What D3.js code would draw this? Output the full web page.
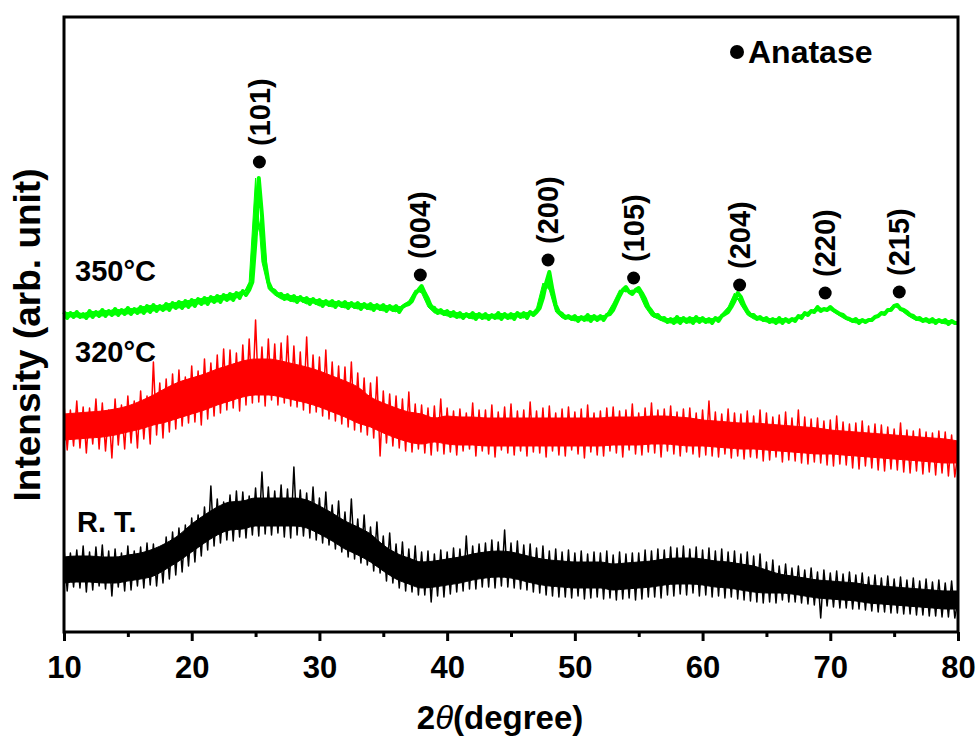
<!DOCTYPE html>
<html><head><meta charset="utf-8">
<script src="https://cdn.jsdelivr.net/npm/d3@7"></script>
<style>
html,body{margin:0;padding:0;background:#fff;}
text{font-family:"Liberation Sans",Arial,sans-serif;font-weight:bold;fill:#000;}
</style></head>
<body><svg id="chart" width="977" height="736"></svg>
<script>
// 2θ grid: 10 → 80 degrees, 0.25° step
const thetaStart = 10, thetaStep = 0.25, nPoints = 281;

// Intensities (arb. unit); one row per degree (x.00, x.25, x.50, x.75)
const intensityRT = [
84,41,79,45, 82,44,86,40, 80,42,85,46, 87,43,81,36, 83,45,79,41,
86,42,81,46, 85,44,89,47, 88,46,84,49, 95,53,100,57, 104,60,107,66,
114,70,117,76, 125,82,146,86, 133,89,130,92, 137,91,141,95, 140,94,136,97,
144,96,160,98, 145,97,141,99, 147,95,143,94, 165,97,142,96, 139,94,145,92,
134,89,140,87, 127,83,131,80, 120,75,133,73, 113,69,117,67, 105,61,110,59,
96,51,99,49, 88,44,90,41, 83,40,86,37, 80,37,81,30, 78,36,82,35,
80,38,84,40, 83,41,96,43, 86,43,88,45, 89,45,92,44, 90,46,102,45,
89,44,91,43, 87,42,88,40, 84,39,86,37, 81,36,83,35, 80,35,82,34,
79,36,81,33, 78,34,80,35, 79,33,81,34, 77,32,80,33, 78,34,79,32,
79,33,82,35, 81,35,83,34, 82,37,85,36, 84,38,86,37, 83,39,85,36,
82,37,84,35, 81,36,83,34, 80,35,81,33, 78,32,80,31, 76,30,78,29,
70,30,72,29, 66,32,68,30, 64,30,66,29, 62,28,64,27, 60,14,62,26,
59,25,61,24, 58,24,60,23, 57,23,59,22, 55,21,57,20, 54,20,56,19,
53,19,55,18, 52,18,54,17, 51,17,53,16, 50,16,52,15, 49,15,51,14,
32];

const intensity320 = [
228,182,222,186, 231,184,225,179, 224,188,233,183, 229,181,222,174, 233,187,227,183,
236,189,231,184, 241,193,236,188, 270,197,249,194, 253,200,258,203, 262,206,255,209,
266,210,261,207, 273,213,269,216, 277,219,283,222, 282,224,279,221, 287,227,293,229,
312,230,285,226, 293,232,288,227, 289,229,296,226, 286,225,280,222, 295,219,277,220,
275,216,282,213, 270,211,266,208, 265,205,270,202, 259,200,254,197, 249,194,255,176,
241,189,238,186, 236,184,233,181, 240,180,228,183, 227,179,224,177, 226,181,233,178,
224,180,221,177, 223,181,219,183, 229,176,222,181, 222,178,227,175, 220,182,225,179,
228,177,221,181, 222,176,230,180, 221,179,224,175, 226,181,219,177, 223,176,225,182,
220,178,223,174, 227,180,219,177, 221,176,224,181, 225,179,221,175, 222,182,228,178,
219,177,224,180, 229,179,222,175, 223,181,226,178, 220,176,223,180, 224,178,219,175,
222,177,231,176, 220,175,218,178, 223,174,219,176, 218,173,221,175, 216,174,222,171,
219,172,215,175, 217,170,220,172, 214,171,222,169, 215,168,213,170, 214,169,211,167,
212,166,216,168, 210,167,208,164, 209,163,211,166, 206,164,208,162, 207,161,205,163,
203,162,209,160, 202,159,201,161, 203,158,200,160, 199,157,201,159, 200,156,197,155,
180];

const intensity350 = [
320,314,319,315, 320,315,318,314, 321,315,320,316, 322,316,321,317, 323,317,322,318,
324,318,323,319, 325,319,326,320, 327,321,326,322, 328,322,329,324, 330,324,331,325,
332,326,333,328, 334,328,335,330, 336,330,337,332, 338,332,339,334, 341,337,342,350,
392,454,417,370, 350,343,341,337, 338,333,337,332, 336,330,335,331, 334,328,333,329,
332,326,331,327, 331,325,330,326, 330,324,329,325, 329,323,328,324, 328,322,327,323,
327,321,326,322, 326,320,325,327, 328,331,338,342, 346,339,333,325, 324,319,322,318,
321,316,320,315, 319,314,318,315, 319,313,318,314, 318,313,317,314, 319,313,318,314,
318,313,319,315, 319,314,320,317, 320,324,334,349, 360,342,327,320, 318,314,316,313,
316,311,315,312, 317,311,316,312, 316,312,317,318, 322,329,336,342, 345,340,338,342,
344,339,333,325, 321,316,317,313, 314,310,313,309, 315,309,314,310, 314,309,315,310,
314,310,313,309, 314,311,316,318, 320,325,331,339, 335,327,321,317, 317,313,315,312,
314,310,313,309, 314,309,313,310, 313,311,316,314, 319,317,321,320, 325,321,323,322,
325,322,320,318, 317,314,313,311, 313,309,312,310, 312,312,315,316, 319,318,322,322,
326,327,323,322, 320,317,316,313, 314,311,313,310, 313,309,312,310, 312,308,311,309,
309];

// Dense core of the noisy traces (upper / lower edge), read at every whole degree 10..80
const coreTheta = d3.range(10, 81);
const coreRTHi = [
75,76,76,75,75,77,79,83,89,97, 108,117,125,130,131,134,134,134,134,132,
126,119,111,105,98,87,79,74,70,71, 73,75,78,80,81,80,77,74,72,71,
70,70,70,68,69,70,71,73,74,74, 73,71,70,68,66,62,58,56,54,52,
51,50,49,47,46,45,44,43,42,41, 41];
const coreRTLo = [
49,50,50,49,49,51,53,56,63,71, 80,89,97,102,103,106,106,106,106,104,
98,91,83,77,70,61,53,48,44,45, 47,49,52,54,55,54,51,48,46,45,
44,44,44,42,43,44,45,47,48,48, 47,45,44,42,40,39,39,38,36,34,
33,32,31,29,28,27,26,25,24,23, 23];
const core320Hi = [
218,219,220,221,223,226,231,237,244,250, 254,258,263,267,271,273,273,271,268,265,
261,256,251,245,235,229,224,220,218,214, 216,215,215,214,214,214,214,214,214,214,
214,214,214,215,215,215,216,216,215,214, 212,211,210,209,209,208,207,206,205,204,
202,201,200,199,198,197,196,195,194,193, 191];
const core320Lo = [
192,193,194,195,197,200,203,207,210,214, 218,222,227,231,235,237,237,235,232,229,
225,220,215,209,205,199,194,190,188,190, 188,187,187,186,186,186,186,186,186,186,
186,186,186,187,187,187,188,188,187,186, 186,185,184,183,183,182,181,180,179,178,
178,177,176,175,174,173,172,171,170,169, 169];

const seriesNames = ["R. T.", "320°C", "350°C"];
const seriesColors = ["#000000", "#ff0000", "#00ff00"];

// Anatase reflections
const peakTheta = [25.3, 37.9, 47.9, 54.6, 62.9, 69.6, 75.4];
const peakMarkY = [470, 357, 372, 354, 347, 339, 340];
const peakLabels = ["(101)", "(004)", "(200)", "(105)", "(204)", "(220)", "(215)"];

const xMajorTicks = [10, 20, 30, 40, 50, 60, 70, 80];
const xMinorTicks = [15, 25, 35, 45, 55, 65, 75];

const twoTheta = d3.range(nPoints).map(i => thetaStart + i * thetaStep);

const svg = d3.select("#chart");
const L = 64, R = 958, T = 17, B = 632;
const x = d3.scaleLinear().domain([10, 80]).range([L, R]);
const y = d3.scaleLinear().domain([0, 615]).range([B, T]);

const line = d3.line().x((d, i) => x(twoTheta[i])).y(d => y(d));
const coreArea = (hi, lo) => d3.area()
  .x((d, i) => x(coreTheta[i])).y1((d, i) => y(hi[i])).y0((d, i) => y(lo[i]))
  .curve(d3.curveMonotoneX)(coreTheta);

// R.T. and 320 °C: solid core + noisy trace
[[intensityRT, coreRTHi, coreRTLo, 0], [intensity320, core320Hi, core320Lo, 1]].forEach(([vals, hi, lo, k]) => {
  svg.append("path").attr("d", coreArea(hi, lo))
    .attr("fill", seriesColors[k]).attr("stroke", seriesColors[k]).attr("stroke-width", 1);
  svg.append("path").datum(vals).attr("d", line)
    .attr("fill", "none").attr("stroke", seriesColors[k]).attr("stroke-width", 1.5)
    .attr("stroke-linejoin", "round");
});

// 350 °C: thin noisy band
{
  const vals = intensity350;
  const pairs = d3.range(0, vals.length - 1, 2).map(j => ({t: twoTheta[j], a: vals[j], b: vals[j + 1]}));
  const band = d3.area().x(d => x(d.t)).y0(d => y(d.b)).y1(d => y(d.a));
  svg.append("path").datum(pairs).attr("d", band)
    .attr("fill", seriesColors[2]).attr("stroke", seriesColors[2]).attr("stroke-width", 1);
  svg.append("path").datum(vals).attr("d", line)
    .attr("fill", "none").attr("stroke", seriesColors[2]).attr("stroke-width", 4)
    .attr("stroke-linejoin", "round");
}

// frame
svg.append("rect").attr("x", L).attr("y", T).attr("width", R - L).attr("height", B - T)
  .attr("fill", "none").attr("stroke", "#000").attr("stroke-width", 3);

// x axis
const gx = svg.append("g").attr("transform", `translate(0,${B})`)
  .call(d3.axisBottom(x).tickValues(xMajorTicks).tickSize(9).tickFormat(d3.format("d")));
gx.select(".domain").remove();
gx.selectAll(".tick line").attr("stroke", "#000").attr("stroke-width", 3);
gx.selectAll(".tick text").attr("y", 46).attr("dy", "0")
  .style("font-size", "31px").style("font-family", "'Liberation Sans',Arial,sans-serif").style("font-weight", "bold");
const gm = svg.append("g").attr("transform", `translate(0,${B})`)
  .call(d3.axisBottom(x).tickValues(xMinorTicks).tickSize(5).tickFormat(""));
gm.select(".domain").remove();
gm.selectAll(".tick line").attr("stroke", "#000").attr("stroke-width", 3);

// axis titles
const xt = svg.append("text").attr("x", 500).attr("y", 729).attr("text-anchor", "middle").style("font-size", "33px");
xt.append("tspan").text("2");
xt.append("tspan").style("font-style", "italic").style("font-weight", "normal").text("θ");
xt.append("tspan").text("(degree)");

svg.append("text").attr("transform", "translate(40,335) rotate(-90)")
  .attr("text-anchor", "middle").style("font-size", "37px").text("Intensity (arb. unit)");

// series labels
const labelPos = [[77, 532], [75, 362], [75, 281]];
seriesNames.forEach((n, k) => {
  svg.append("text").attr("x", labelPos[k][0]).attr("y", labelPos[k][1])
    .style("font-size", "29px").text(n);
});

// peak markers
peakTheta.forEach((p, i) => {
  const cx = x(p), cy = y(peakMarkY[i]);
  svg.append("circle").attr("cx", cx).attr("cy", cy).attr("r", 6.5).attr("fill", "#000");
  svg.append("text").attr("transform", `translate(${cx},${cy - 16}) rotate(-90)`)
    .attr("dy", "0.35em").style("font-size", "29px").text(peakLabels[i]);
});

// legend
svg.append("circle").attr("cx", 737).attr("cy", 52).attr("r", 7).attr("fill", "#000");
svg.append("text").attr("x", 748).attr("y", 63).style("font-size", "32px").text("Anatase");
</script></body></html>
